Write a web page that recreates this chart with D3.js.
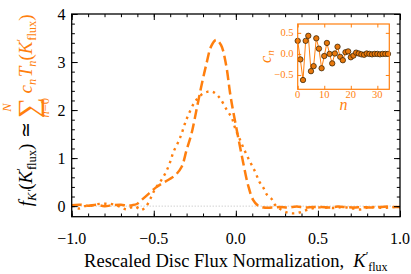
<!DOCTYPE html>
<html><head><meta charset="utf-8">
<script src="https://cdn.jsdelivr.net/npm/d3@7"></script>
</head><body style="margin:0">
<svg id="c" width="411" height="274"></svg>
<script>
// ---- data ----
const dashedX = [-1.00,-0.95,-0.90,-0.85,-0.80,-0.75,-0.70,-0.66,-0.63,-0.60,-0.57,-0.53,-0.49,-0.45,-0.41,-0.37,-0.33,-0.30,-0.27,-0.24,-0.21,-0.18,-0.15,-0.12,-0.09,-0.06,-0.035,-0.015,0.015,0.045,0.075,0.105,0.135,0.17,0.22,0.27,0.32,0.37,0.42,0.47,0.52,0.57,0.62,0.67,0.72,0.77,0.82,0.87,0.92,0.97,1.00];
const dashedY = [0.02,0.03,0.01,0.03,0.00,0.02,0.03,0.01,0.02,0.05,0.14,0.26,0.38,0.47,0.55,0.64,0.82,1.17,1.51,2.00,2.50,2.95,3.33,3.46,3.35,2.95,2.35,1.95,1.42,0.90,0.43,0.13,0.01,-0.03,-0.03,-0.02,-0.03,-0.01,-0.03,-0.02,-0.02,-0.03,-0.01,-0.02,-0.03,-0.02,-0.03,-0.02,-0.01,-0.02,-0.02];
const dottedX = [-1.00,-0.96,-0.92,-0.89,-0.85,-0.80,-0.77,-0.73,-0.69,-0.665,-0.64,-0.61,-0.58,-0.55,-0.52,-0.49,-0.46,-0.43,-0.40,-0.38,-0.35,-0.33,-0.31,-0.289,-0.25,-0.21,-0.175,-0.14,-0.10,-0.055,-0.024,-0.004,0.026,0.057,0.087,0.118,0.143,0.168,0.189,0.22,0.24,0.28,0.32,0.36,0.40,0.44,0.49,0.55,0.60,0.65,0.70,0.76,0.80,0.85,0.90,0.95,1.00];
const dottedY = [0.02,-0.05,0.00,0.00,0.04,0.05,0.05,0.02,-0.04,-0.07,-0.03,-0.01,-0.08,-0.02,0.16,0.37,0.51,0.68,0.92,1.13,1.34,1.51,1.72,1.90,2.17,2.32,2.38,2.38,2.26,2.00,1.83,1.62,1.375,1.13,0.92,0.71,0.51,0.38,0.24,0.14,0.02,-0.08,-0.14,-0.15,-0.12,-0.07,-0.03,-0.03,-0.04,-0.02,-0.04,-0.07,-0.03,-0.02,-0.04,-0.02,-0.03];
const coeffN = d3.range(0, 35);
const coeffC = [0.31,-0.13,-0.62,0.31,0.43,-0.41,-0.29,0.37,0.125,-0.34,-0.05,0.26,0.00,-0.225,0.01,0.17,-0.07,-0.15,0.04,0.06,-0.08,-0.04,0.03,0.01,-0.01,-0.02,0.01,0.00,-0.01,0.00,0.00,-0.01,0.00,0.00,0.00];
const xTicks = [-1.0,-0.5,0.0,0.5,1.0];
const yTicks = [0,1,2,3,4];
const insetXTicks = [0,10,20,30];
const insetYTicks = [-0.5,0.0,0.5];

const ORANGE = "#ff7f0e";
const svg = d3.select("#c");

// ---- main axes ----
const L=71.7, R=400, T=14, B=216.7;
const x = d3.scaleLinear().domain([-1,1]).range([L,R]);
const y = d3.scaleLinear().domain([-0.22,4]).range([B,T]);
const fmt = d => d3.format(".1f")(d).replace("-","\u2212");

// zero line
svg.append("line").attr("x1",L).attr("x2",R).attr("y1",y(0)).attr("y2",y(0))
  .attr("stroke","#bbbbbb").attr("stroke-width",1).attr("stroke-dasharray","1,2");

const line = d3.line().x(d=>x(d[0])).y(d=>y(d[1])).curve(d3.curveCatmullRom.alpha(0.5));
svg.append("path").datum(dottedX.map((v,i)=>[v,dottedY[i]])).attr("d",line)
  .attr("fill","none").attr("stroke",ORANGE).attr("stroke-width",2.4)
  .attr("stroke-dasharray","2.4,4.4").attr("stroke-linecap","butt");
svg.append("path").datum(dashedX.map((v,i)=>[v,dashedY[i]])).attr("d",line)
  .attr("fill","none").attr("stroke",ORANGE).attr("stroke-width",2.5)
  .attr("stroke-dasharray","10,4.5");

// frame ticks
function ticks(g, scale, vals, orient, len, color){
  const ax = {bottom:d3.axisBottom, top:d3.axisTop, left:d3.axisLeft, right:d3.axisRight}[orient](scale)
    .tickValues(vals).tickSizeInner(-len).tickSizeOuter(0).tickFormat("");
  g.call(ax);
  g.select(".domain").remove();
  g.selectAll("line").attr("stroke",color).attr("stroke-width",1);
}
const xMinor = d3.range(-10,11).map(i=>i/10);
const yMinor = d3.range(0,21).map(i=>i/5);
[["bottom",B],["top",T]].forEach(([o,p])=>{
  ticks(svg.append("g").attr("transform",`translate(0,${p})`), x, xTicks, o, 6, "#000");
  ticks(svg.append("g").attr("transform",`translate(0,${p})`), x, xMinor, o, 3.2, "#000");
});
[["left",L],["right",R]].forEach(([o,p])=>{
  ticks(svg.append("g").attr("transform",`translate(${p},0)`), y, yTicks, o, 6, "#000");
  ticks(svg.append("g").attr("transform",`translate(${p},0)`), y, yMinor, o, 3.2, "#000");
});
svg.append("rect").attr("x",L).attr("y",T).attr("width",R-L).attr("height",B-T)
  .attr("fill","none").attr("stroke","#000").attr("stroke-width",1.3);

function txt(sel){ return sel.style("font-family",'"Liberation Serif"'); }

// tick labels
txt(svg.selectAll(".xt").data(xTicks).enter().append("text"))
  .attr("x",d=>x(d)).attr("y",244).attr("text-anchor","middle")
  .attr("font-size",16).text(fmt);
txt(svg.selectAll(".yt").data(yTicks).enter().append("text"))
  .attr("x",65.5).attr("y",d=>y(d)+5.5).attr("text-anchor","end")
  .attr("font-size",16).text(d=>d);

// x label
const xl = txt(svg.append("text")).attr("x",(L+R)/2).attr("y",267).attr("text-anchor","middle")
  .attr("font-size",18.5);
xl.append("tspan").text("Rescaled Disc Flux Normalization,\u2002");
xl.append("tspan").attr("font-style","italic").text("K");
xl.append("tspan").attr("font-size",12).attr("dy",-7).text("\u2032");
xl.append("tspan").attr("font-size",12).attr("dy",11).attr("dx",0).text("flux");

// y label (rotated), laid out piece by piece
const yl = svg.append("g").attr("transform","translate(32,110) rotate(-90)");
function addText(parent, build, color){
  const t = txt(parent.append("text")).attr("fill",color).attr("font-size",19);
  build(t);
  return t;
}
function kflux(t){
  t.append("tspan").attr("font-style","italic").text("K");
  t.append("tspan").attr("font-size",12.5).attr("dy",-7).text("\u2032");
  t.append("tspan").attr("font-size",12.5).attr("dy",11).attr("dx",-2).text("flux");
  t.append("tspan").attr("dy",-4).text(")");
}
const p1 = addText(yl, t=>{
  t.append("tspan").attr("font-style","italic").text("f");
  t.append("tspan").attr("font-size",12.5).attr("font-style","italic").attr("dy",4).text("K\u2032");
  t.append("tspan").attr("dy",-4).text("(");
  kflux(t);
}, "#000");
const p2 = addText(yl, t=>t.text("\u2009\u2243\u2009"), "#000");
const sg = yl.append("g");
const sig = txt(sg.append("text")).attr("font-size",29).attr("fill",ORANGE)
  .attr("y",6).attr("text-anchor","middle").text("\u2211");
const sN = txt(sg.append("text")).attr("font-size",12.5).attr("fill",ORANGE)
  .attr("font-style","italic").attr("y",-21).attr("text-anchor","middle").text("N");
const s0 = txt(sg.append("text")).attr("font-size",12.5).attr("fill",ORANGE)
  .attr("y",17).attr("text-anchor","middle");
s0.append("tspan").attr("font-style","italic").text("n");
s0.append("tspan").text("=0");
const p4 = addText(yl, t=>{
  t.append("tspan").text("\u2009");
  t.append("tspan").attr("font-style","italic").text("c");
  t.append("tspan").attr("font-size",12.5).attr("font-style","italic").attr("dy",4).text("n");
  t.append("tspan").attr("font-style","italic").attr("dy",-4).attr("dx",1.5).text("T");
  t.append("tspan").attr("font-size",12.5).attr("font-style","italic").attr("dy",4).text("n");
  t.append("tspan").attr("dy",-4).text("(");
  kflux(t);
}, ORANGE);
const w1 = p1.node().getComputedTextLength();
const w2 = p2.node().getComputedTextLength();
const ws = Math.max(sig.node().getComputedTextLength(), s0.node().getComputedTextLength());
const w4 = p4.node().getComputedTextLength();
const W = w1+w2+ws+w4;
let cx = -W/2;
p1.attr("x",cx); cx += w1;
p2.attr("x",cx); cx += w2;
sg.attr("transform",`translate(${cx+ws/2},0)`); cx += ws;
p4.attr("x",cx);

// ---- inset ----
const iL=297.7, iR=389.3, iT=24, iB=89.3;
const ix = d3.scaleLinear().domain([0,34.5]).range([iL,iR]);
const iy = d3.scaleLinear().domain([-0.84,0.71]).range([iB,iT]);
svg.append("rect").attr("x",iL).attr("y",iT).attr("width",iR-iL).attr("height",iB-iT).attr("fill","#fff");
svg.append("path").datum(coeffN.map((n,i)=>[n,coeffC[i]]))
  .attr("d",d3.line().x(d=>ix(d[0])).y(d=>iy(d[1])))
  .attr("fill","none").attr("stroke",ORANGE).attr("stroke-width",1);
svg.selectAll(".pt").data(coeffN).enter().append("circle")
  .attr("cx",d=>ix(d)).attr("cy",(d,i)=>iy(coeffC[i])).attr("r",2.7)
  .attr("fill","#e8780c").attr("stroke","#2a1a00").attr("stroke-width",0.7);
[["bottom",iB],["top",iT]].forEach(([o,p])=>
  ticks(svg.append("g").attr("transform",`translate(0,${p})`), ix, insetXTicks, o, 3.5, ORANGE));
[["left",iL],["right",iR]].forEach(([o,p])=>
  ticks(svg.append("g").attr("transform",`translate(${p},0)`), iy, insetYTicks, o, 3.5, ORANGE));
svg.append("rect").attr("x",iL).attr("y",iT).attr("width",iR-iL).attr("height",iB-iT)
  .attr("fill","none").attr("stroke",ORANGE).attr("stroke-width",1.2);
txt(svg.selectAll(".ixt").data(insetXTicks).enter().append("text"))
  .attr("x",d=>ix(d)).attr("y",97.5).attr("text-anchor","middle").attr("fill",ORANGE)
  .attr("font-size",10.5).text(d=>d);
txt(svg.selectAll(".iyt").data(insetYTicks).enter().append("text"))
  .attr("x",293.5).attr("y",d=>iy(d)+3.5).attr("text-anchor","end").attr("fill",ORANGE)
  .attr("font-size",10.5).text(fmt);
txt(svg.append("text")).attr("x",(iL+iR)/2).attr("y",110).attr("text-anchor","middle").attr("fill",ORANGE)
  .attr("font-size",16).attr("font-style","italic").text("n");
const cl = txt(svg.append("text")).attr("transform",`translate(271,${(iT+iB)/2}) rotate(-90)`)
  .attr("text-anchor","middle").attr("fill",ORANGE).attr("font-size",16);
cl.append("tspan").attr("font-style","italic").text("c");
cl.append("tspan").attr("font-style","italic").attr("font-size",11).attr("dy",3).text("n");
</script>
</body></html>
